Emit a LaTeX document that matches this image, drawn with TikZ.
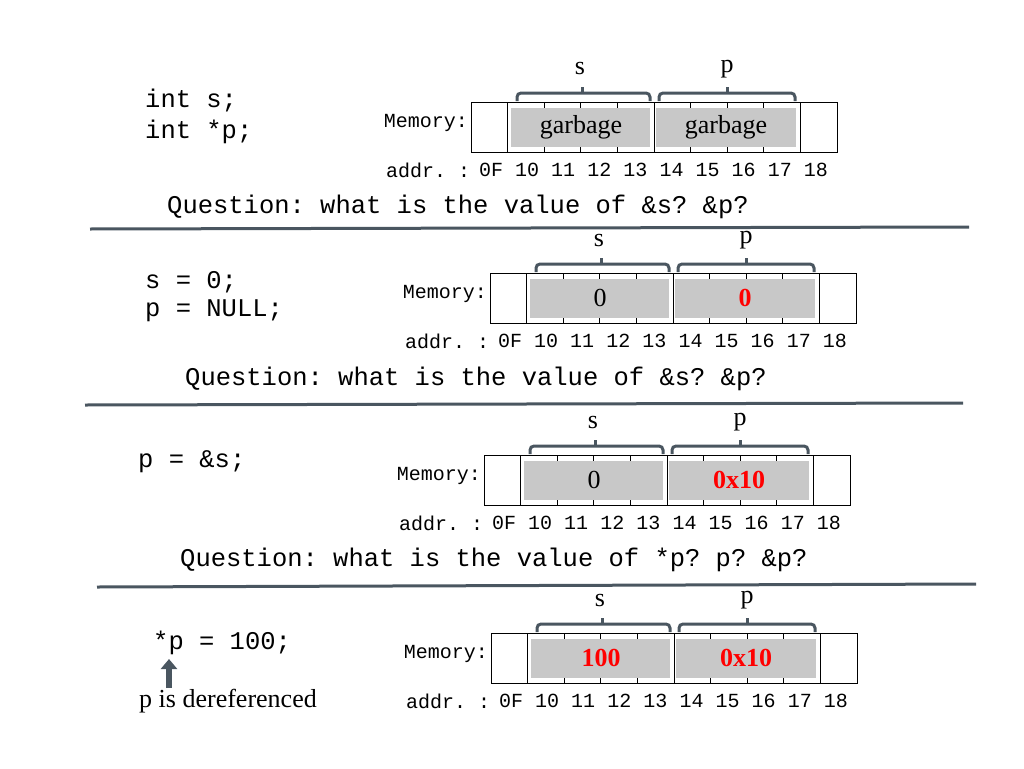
\documentclass[tikz,border=0pt]{standalone}
\usepackage{fontspec}
\setmainfont{Liberation Serif}
\setmonofont{Liberation Mono}
\usetikzlibrary{arrows.meta}
\definecolor{slate}{HTML}{4A5660}
\definecolor{cellgray}{HTML}{C8C8C8}
\tikzset{
  code/.style={font=\ttfamily\fontsize{25.5}{28}\selectfont,anchor=west,inner sep=0pt},
  small/.style={font=\ttfamily\fontsize{20}{22}\selectfont,inner sep=0pt},
  val/.style={font=\fontsize{26}{28}\selectfont,inner sep=0pt},
  brace/.style={draw=slate,line width=3pt,rounded corners=4pt},
  rule/.style={draw=slate,line width=3pt}
}
% one memory row: shift x, shift y, value of s, value of p, colours
\newcommand\mempanel[6]{%
  \begin{scope}[shift={(#1,#2)}]
    \draw[thick] (471,102) rectangle (837,152);
    \foreach \i in {1,5,9} \draw[thick] (471+36.6*\i,102) -- (471+36.6*\i,152);
    \fill[cellgray] (511,108) rectangle (650,147);
    \fill[cellgray] (656,108) rectangle (796,147);
    \foreach \i in {2,3,4,6,7,8} {
      \draw[thick] (471+36.6*\i,102) -- (471+36.6*\i,108);
      \draw[thick] (471+36.6*\i,147) -- (471+36.6*\i,152);
    }
    \node[val,text=#5] (sv) at (581,127) {#3};
    \node[val,text=#6] (pv) at (726,127) {#4};
    \draw[brace] (517,101) -- (517,93) -- (650,93) -- (650,101);
    \draw[brace] (582,93) -- (582,87);
    \draw[brace] (659,101) -- (659,93) -- (795,93) -- (795,101);
    \draw[brace] (727,93) -- (727,87);
    \node[val] (sl) at (580,69) {s};
    \node[val] (pl) at (727,69) {p};
    \node[small,anchor=east] (mem) at (468,123) {Memory:};
    \node[small,anchor=west] (ad) at (386,170) {addr. :};
    \foreach \t [count=\i from 0] in {0F,10,11,12,13,14,15,16,17,18}
      \node[small] (a\i) at (491+36.1*\i,170) {\t};
  \end{scope}}
\begin{document}
\begin{tikzpicture}[x=1pt,y=-1pt]
  \useasboundingbox (0,0) rectangle (1024,768);
  % first row
  \node[code] (c1) at (145,101) {int s;};
  \node[code] (c2) at (145,132) {int *p;};
  \mempanel{0}{0}{garbage}{garbage}{black}{black}
  \node[code] (q1) at (167,207) {Question: what is the value of \&s? \&p?};
  \draw[rule] (90,229) -- (969,227);
  % second row
  \node[code] (c3) at (145,282) {s = 0;};
  \node[code] (c4) at (145,311) {p = NULL;};
  \mempanel{19}{171}{0}{\textbf{0}}{black}{red}
  \node[code] (q2) at (185,379) {Question: what is the value of \&s? \&p?};
  \draw[rule] (85,405) -- (963,403);
  % third row
  \node[code] (c5) at (138,462) {p = \&s;};
  \mempanel{13}{353}{0}{\textbf{0x10}}{black}{red}
  \node[code] (q3) at (180,560) {Question: what is the value of *p? p? \&p?};
  \draw[rule] (97,587) -- (976,584);
  % fourth row
  \node[code] (c6) at (153,643) {*p = 100;};
  \mempanel{20}{531}{\textbf{100}}{\textbf{0x10}}{red}{red}
  \node[val] (deref) at (228,701) {p is dereferenced};
  \coordinate (tip) at (169,659);
  \draw[slate,line width=6pt,-{Triangle[width=16pt,length=10pt]}] (169,688) -- (tip);
\end{tikzpicture}
\end{document}
